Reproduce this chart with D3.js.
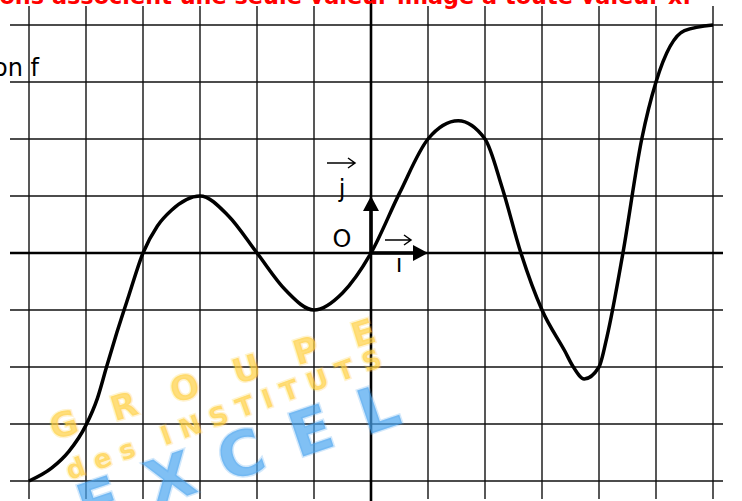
<!DOCTYPE html>
<html>
<head>
<meta charset="utf-8">
<script src="https://cdn.jsdelivr.net/npm/d3@7"></script>
<style>
  body { margin: 0; background: #fff; }
  svg { display: block; }
</style>
</head>
<body>
<div id="chart"></div>
<script>
const width = 742;
const height = 501;

// points of the curve of f (1 unit = 1 square)
const curveX = [-6, -5.6, -5.3, -5, -4.8, -4.64, -4.46, -4.25, -4, -3.75, -3.5, -3, -2.5, -2, -1.5, -1, -0.5, 0, 0.5, 1, 1.53, 2, 2.3, 2.63, 3, 3.4, 3.55, 3.74, 4, 4.14, 4.42, 4.75, 5, 5.5, 6];
const curveY = [-4, -3.77, -3.48, -3.02, -2.55, -2, -1.4, -0.75, 0, 0.47, 0.75, 1, 0.65, 0, -0.65, -1, -0.7, 0, 1.05, 2, 2.32, 2, 1.15, 0, -1, -1.72, -2.0, -2.21, -2, -1.47, 0, 2, 3, 3.9, 4];

const gridX = d3.range(-6, 7);
const gridY = d3.range(-4, 5);

const titleText = "Les fonctions associent une seule valeur image à toute valeur x.";
const captionText = "Représentation graphique de la fonction f";

const svg = d3.select("#chart")
    .append("svg")
    .attr("width", width)
    .attr("height", height);

const x = d3.scaleLinear().domain([-6, 6]).range([29, 713]);
const y = d3.scaleLinear().domain([-4, 4]).range([481, 25]);

// grid
svg.append("g")
    .selectAll("line")
    .data(gridX)
    .enter()
    .append("line")
    .attr("x1", d => x(d)).attr("x2", d => x(d))
    .attr("y1", 6).attr("y2", 499)
    .style("stroke", "#111")
    .style("stroke-width", 1.4);

svg.append("g")
    .selectAll("line")
    .data(gridY)
    .enter()
    .append("line")
    .attr("x1", 10).attr("x2", 723)
    .attr("y1", d => y(d)).attr("y2", d => y(d))
    .style("stroke", "#111")
    .style("stroke-width", 1.4);

// axes
svg.append("line")
    .attr("x1", 10).attr("x2", 723)
    .attr("y1", y(0)).attr("y2", y(0))
    .style("stroke", "#000").style("stroke-width", 2.6);
svg.append("line")
    .attr("x1", x(0)).attr("x2", x(0))
    .attr("y1", 0).attr("y2", height)
    .style("stroke", "#000").style("stroke-width", 2.6);

// vectors i and j
svg.append("line")
    .attr("x1", x(0)).attr("x2", x(1) - 12)
    .attr("y1", y(0)).attr("y2", y(0))
    .style("stroke", "#000").style("stroke-width", 3.5);
svg.append("path")
    .attr("d", `M${x(1)},${y(0)} L${x(1) - 15},${y(0) - 8} L${x(1) - 15},${y(0) + 8} Z`)
    .style("fill", "#000");
svg.append("line")
    .attr("x1", x(0)).attr("x2", x(0))
    .attr("y1", y(0)).attr("y2", y(1) + 12)
    .style("stroke", "#000").style("stroke-width", 3.5);
svg.append("path")
    .attr("d", `M${x(0)},${y(1)} L${x(0) - 8},${y(1) + 15} L${x(0) + 8},${y(1) + 15} Z`)
    .style("fill", "#000");

// little arrows over the vector names
function vecArrow(x0, x1, yy) {
    svg.append("path")
        .attr("d", `M${x0},${yy} L${x1},${yy} M${x1 - 7},${yy - 5} L${x1},${yy} L${x1 - 7},${yy + 5}`)
        .style("fill", "none")
        .style("stroke", "#000")
        .style("stroke-width", 1.5);
}
vecArrow(327, 355, 163);
vecArrow(385, 411, 240);

const labelFont = "'DejaVu Sans', sans-serif";
svg.append("text").attr("x", 342).attr("y", 197).attr("text-anchor", "middle")
    .style("font-family", labelFont).style("font-size", "24px").text("j");
svg.append("text").attr("x", 342).attr("y", 247).attr("text-anchor", "middle")
    .style("font-family", labelFont).style("font-size", "24px").text("O");
svg.append("text").attr("x", 399).attr("y", 272).attr("text-anchor", "middle")
    .style("font-family", labelFont).style("font-size", "24px").text("ı");

// watermark (under the curve)
const wm = svg.append("g").style("font-family", labelFont).style("font-weight", "bold");
function stamp(txt, px, py, angle, size, spacing, color) {
    wm.append("text")
        .attr("transform", `translate(${px},${py}) rotate(${angle})`)
        .style("font-size", size + "px")
        .style("letter-spacing", spacing + "px")
        .style("fill", color)
        .style("fill-opacity", 0.7)
        .style("stroke", color)
        .style("stroke-opacity", 0.25)
        .style("stroke-width", 3)
        .text(txt);
}
stamp("GROUPE", 54, 440, -17, 34, 36, "#ffcf40");
stamp("des INSTITUTS", 70, 480, -20, 26, 10, "#ffcf40");
stamp("EXCEL", 86, 530, -18.7, 62, 30, "#4aa5f0");

// curve
const line = d3.line()
    .x(d => x(d[0]))
    .y(d => y(d[1]))
    .curve(d3.curveMonotoneX);

svg.append("path")
    .datum(d3.zip(curveX, curveY))
    .attr("d", line)
    .style("fill", "none")
    .style("stroke", "#000")
    .style("stroke-width", 3.5)
    .style("stroke-linejoin", "round");

// texts cut by the frame
svg.append("text")
    .attr("x", 691).attr("y", 4)
    .attr("text-anchor", "end")
    .style("font-family", labelFont)
    .style("font-size", "22.4px")
    .style("font-weight", "bold")
    .style("fill", "#ff0000")
    .text(titleText);

svg.append("text")
    .attr("x", 39).attr("y", 76)
    .attr("text-anchor", "end")
    .style("font-family", labelFont)
    .style("font-size", "24px")
    .text(captionText);
</script>
</body>
</html>
